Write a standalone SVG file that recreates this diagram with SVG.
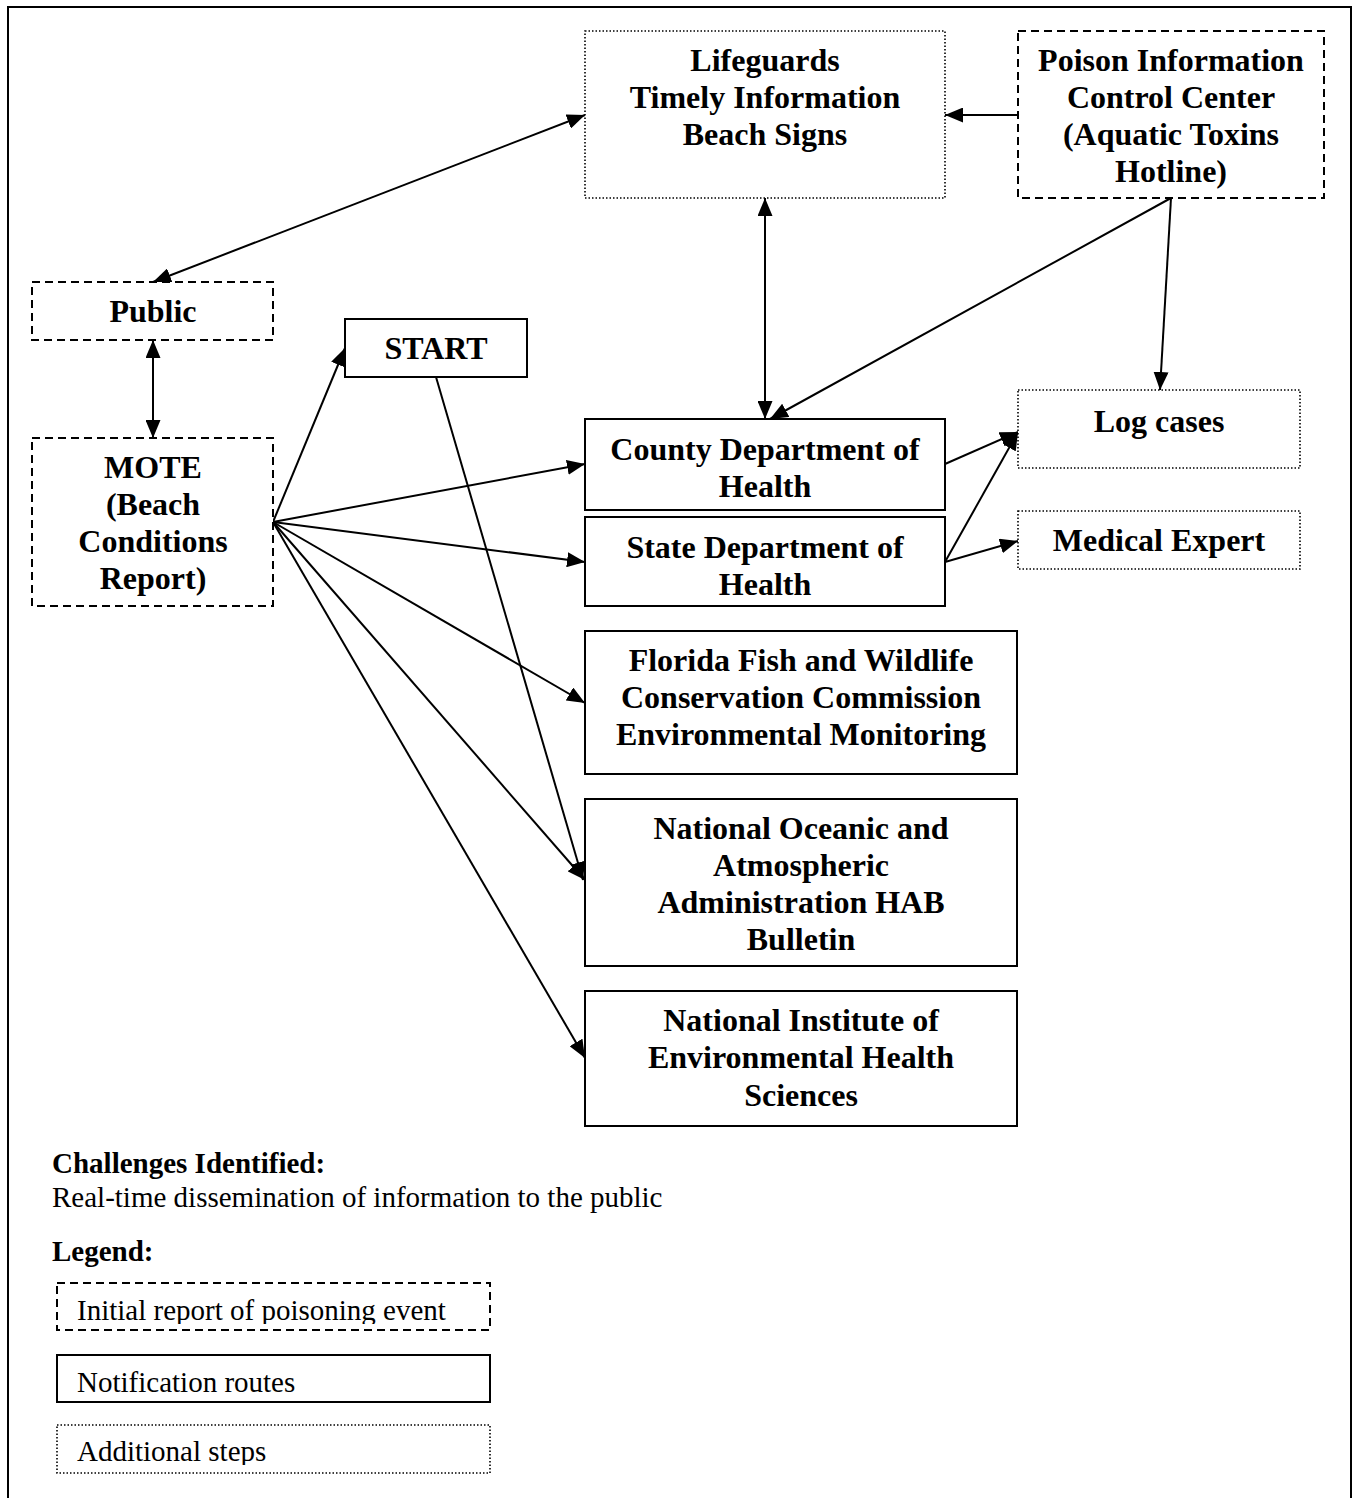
<svg xmlns="http://www.w3.org/2000/svg" width="1354" height="1498" viewBox="0 0 1354 1498">
<style>
.b{fill:#fff;stroke:#000}
.solid{stroke-width:2}
.dash{stroke-width:2;stroke-dasharray:8 5}
.dot{stroke-width:1.6;stroke-dasharray:1.5 2}
.t{font-family:"Liberation Serif","Times New Roman",serif;font-weight:bold;font-size:32px;text-anchor:middle;fill:#000}
.n{font-family:"Liberation Serif","Times New Roman",serif;font-size:29px;fill:#000}
.h{font-family:"Liberation Serif","Times New Roman",serif;font-weight:bold;font-size:29px;fill:#000}
.c{fill:none;stroke:#000;stroke-width:2}
</style>
<defs>
<marker id="ah" markerUnits="userSpaceOnUse" markerWidth="19" markerHeight="15" refX="18" refY="7.5" orient="auto-start-reverse">
<path d="M0,0 L18,7.5 L0,15 z" fill="#000"/>
</marker>
<clipPath id="cl1"><rect x="57" y="1283" width="433" height="41"/></clipPath>
<clipPath id="cl3"><rect x="57" y="1425" width="433" height="40"/></clipPath>
</defs>
<rect x="0" y="0" width="1354" height="1498" fill="#fff"/>
<rect x="8" y="7" width="1343" height="1510" fill="none" stroke="#000" stroke-width="2"/>

<g id="connectors">
<line class="c" x1="585" y1="115" x2="153" y2="282" marker-start="url(#ah)" marker-end="url(#ah)"/>
<line class="c" x1="1018" y1="115" x2="945" y2="115" marker-end="url(#ah)"/>
<line class="c" x1="765" y1="198" x2="765" y2="419" marker-start="url(#ah)" marker-end="url(#ah)"/>
<line class="c" x1="1171" y1="198" x2="770" y2="419" marker-end="url(#ah)"/>
<line class="c" x1="1171" y1="198" x2="1160" y2="390" marker-end="url(#ah)"/>
<line class="c" x1="153" y1="340" x2="153" y2="438" marker-start="url(#ah)" marker-end="url(#ah)"/>
<line class="c" x1="273" y1="522" x2="345" y2="348" marker-end="url(#ah)"/>
<line class="c" x1="273" y1="522" x2="585" y2="464" marker-end="url(#ah)"/>
<line class="c" x1="273" y1="522" x2="585" y2="562" marker-end="url(#ah)"/>
<line class="c" x1="273" y1="522" x2="585" y2="703" marker-end="url(#ah)"/>
<line class="c" x1="273" y1="522" x2="585" y2="880" marker-end="url(#ah)"/>
<line class="c" x1="436" y1="377" x2="583" y2="880" marker-end="url(#ah)"/>
<line class="c" x1="273" y1="522" x2="585" y2="1058" marker-end="url(#ah)"/>
<line class="c" x1="945" y1="464" x2="1018" y2="432" marker-end="url(#ah)"/>
<line class="c" x1="945" y1="562" x2="1018" y2="432" marker-end="url(#ah)"/>
<line class="c" x1="945" y1="562" x2="1018" y2="541" marker-end="url(#ah)"/>
</g>

<g id="lifeguards">
<rect class="b dot" x="585" y="31" width="360" height="167"/>
<text class="t" x="765" y="71">Lifeguards</text>
<text class="t" x="765" y="108">Timely Information</text>
<text class="t" x="765" y="145">Beach Signs</text>
</g>
<g id="poison">
<rect class="b dash" x="1018" y="31" width="306" height="167"/>
<text class="t" x="1171" y="71">Poison Information</text>
<text class="t" x="1171" y="108">Control Center</text>
<text class="t" x="1171" y="145">(Aquatic Toxins</text>
<text class="t" x="1171" y="182">Hotline)</text>
</g>
<g id="public">
<rect class="b dash" x="32" y="282" width="241" height="58"/>
<text class="t" x="153" y="322">Public</text>
</g>
<g id="start">
<rect class="b solid" x="345" y="319" width="182" height="58"/>
<text class="t" x="436" y="359">START</text>
</g>
<g id="mote">
<rect class="b dash" x="32" y="438" width="241" height="168"/>
<text class="t" x="153" y="478">MOTE</text>
<text class="t" x="153" y="515">(Beach</text>
<text class="t" x="153" y="552">Conditions</text>
<text class="t" x="153" y="589">Report)</text>
</g>
<g id="county">
<rect class="b solid" x="585" y="419" width="360" height="91"/>
<text class="t" x="765" y="460">County Department of</text>
<text class="t" x="765" y="497">Health</text>
</g>
<g id="state">
<rect class="b solid" x="585" y="517" width="360" height="89"/>
<text class="t" x="765" y="558">State Department of</text>
<text class="t" x="765" y="595">Health</text>
</g>
<g id="logcases">
<rect class="b dot" x="1018" y="390" width="282" height="78"/>
<text class="t" x="1159" y="432">Log cases</text>
</g>
<g id="medical">
<rect class="b dot" x="1018" y="511" width="282" height="58"/>
<text class="t" x="1159" y="551">Medical Expert</text>
</g>
<g id="florida">
<rect class="b solid" x="585" y="631" width="432" height="143"/>
<text class="t" x="801" y="671">Florida Fish and Wildlife</text>
<text class="t" x="801" y="708">Conservation Commission</text>
<text class="t" x="801" y="745">Environmental Monitoring</text>
</g>
<g id="noaa">
<rect class="b solid" x="585" y="799" width="432" height="167"/>
<text class="t" x="801" y="839">National Oceanic and</text>
<text class="t" x="801" y="876">Atmospheric</text>
<text class="t" x="801" y="913">Administration HAB</text>
<text class="t" x="801" y="950">Bulletin</text>
</g>
<g id="niehs">
<rect class="b solid" x="585" y="991" width="432" height="135"/>
<text class="t" x="801" y="1031">National Institute of</text>
<text class="t" x="801" y="1068">Environmental Health</text>
<text class="t" x="801" y="1106">Sciences</text>
</g>

<g id="notes">
<text class="h" x="52" y="1173">Challenges Identified:</text>
<text class="n" x="52" y="1207">Real-time dissemination of information to the public</text>
<text class="h" x="52" y="1261">Legend:</text>
</g>
<g id="legend">
<rect class="b dash" x="57" y="1283" width="433" height="47"/>
<text class="n" x="77" y="1320" clip-path="url(#cl1)">Initial report of poisoning event</text>
<rect class="b solid" x="57" y="1355" width="433" height="47"/>
<text class="n" x="77" y="1392">Notification routes</text>
<rect class="b dot" x="57" y="1425" width="433" height="48"/>
<text class="n" x="77" y="1461" clip-path="url(#cl3)">Additional steps</text>
</g>
</svg>
